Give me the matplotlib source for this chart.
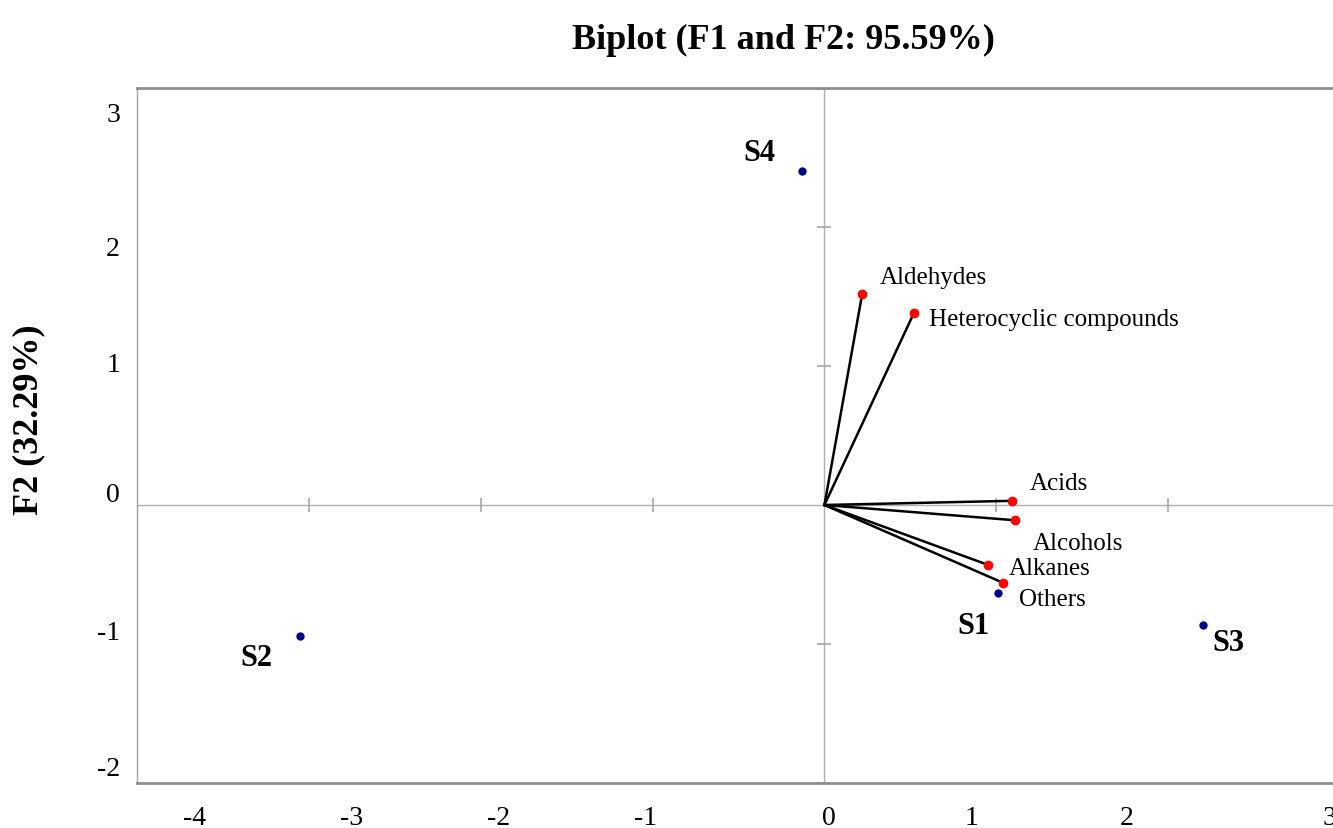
import matplotlib
matplotlib.use("Agg")
import matplotlib.pyplot as plt
import matplotlib.transforms as mtransforms

plt.rcParams['font.family'] = ['Liberation Serif', 'DejaVu Serif']

# ---- data ----
obs_names = ["S1", "S2", "S3", "S4"]
obs_x = [1.01, -3.05, 2.20, -0.13]
obs_y = [-0.63, -0.94, -0.86, 2.40]

var_names = ["Aldehydes", "Heterocyclic compounds", "Acids", "Alcohols", "Alkanes", "Others"]
var_x = [0.22, 0.52, 1.09, 1.11, 0.95, 1.04]
var_y = [1.52, 1.38, 0.03, -0.11, -0.43, -0.56]

x_ticks = [-4, -3, -2, -1, 0, 1, 2, 3]
y_ticks = [-2, -1, 0, 1, 2, 3]

title = "Biplot (F1 and F2: 95.59%)"
y_label = "F2 (32.29%)"

# ---- styling (label offsets in pixels) ----
obs_offsets = [(-25, -33), (-44, -22), (26, -18), (-43, 19)]
var_offsets = [(18, 17), (15, -6), (18, 18), (18, -23), (21, -3), (16, -16)]
xlab_offsets = [57, 43, 18, -7, 4, -25, -41, -10]
ylab_offsets = [14, 11, 10, 1, -22, -26]

W, H = 1333, 829
fig = plt.figure(figsize=(W / 100, H / 100), dpi=100)
ax = fig.add_axes([137 / W, (H - 784) / H, (1340 - 137) / W, (784 - 89) / H])
ax.set_xlim(-4, 3)
ax.set_ylim(-2, 3)

for s in ax.spines.values():
    s.set_color("#a0a0a0")
    s.set_linewidth(1.0)
ax.spines['top'].set_linewidth(2.0)
ax.spines['bottom'].set_linewidth(2.0)
ax.spines['top'].set_color("#8c8c8c")
ax.spines['bottom'].set_color("#8c8c8c")
ax.set_xticks([])
ax.set_yticks([])

# zero lines with crossing tick marks
ax.axhline(0, color="#b0b0b0", lw=1.0, zorder=1)
ax.axvline(0, color="#b0b0b0", lw=1.0, zorder=1)
xt_inner = [v for v in x_ticks if v not in (x_ticks[0], x_ticks[-1], 0)]
yt_inner = [v for v in y_ticks if v not in (y_ticks[0], y_ticks[-1], 0)]
ax.plot(xt_inner, [0] * len(xt_inner), ls="none", marker="|", ms=10, mew=1.2, color="#a8a8a8", zorder=1)
ax.plot([0] * len(yt_inner), yt_inner, ls="none", marker="_", ms=10, mew=1.2, color="#a8a8a8", zorder=1)

# tick labels
bx = mtransforms.blended_transform_factory(ax.transData, ax.transAxes)
for v, off in zip(x_ticks, xlab_offsets):
    ax.annotate(f"{v}", xy=(v, 0), xycoords=bx, xytext=(off, -35), textcoords="offset pixels",
                ha="center", va="center", fontsize=20, annotation_clip=False)
by = mtransforms.blended_transform_factory(ax.transAxes, ax.transData)
for v, off in zip(y_ticks, ylab_offsets):
    ax.annotate(f"{v}", xy=(0, v), xycoords=by, xytext=(-17, off), textcoords="offset pixels",
                ha="right", va="center", fontsize=20, annotation_clip=False)

# vectors
for x, y in zip(var_x, var_y):
    ax.plot([0, x], [0, y], color="black", lw=1.8, zorder=2)
ax.plot(var_x, var_y, ls="none", marker="o", ms=6, color="#ff0000", zorder=3)
for name, x, y, off in zip(var_names, var_x, var_y, var_offsets):
    ax.annotate(name, xy=(x, y), xytext=off, textcoords="offset pixels",
                ha="left", va="center", fontsize=18)

# observations
ax.plot(obs_x, obs_y, ls="none", marker="o", ms=5, color="#00008b", zorder=3)
for name, x, y, off in zip(obs_names, obs_x, obs_y, obs_offsets):
    ax.annotate(name, xy=(x, y), xytext=off, textcoords="offset pixels",
                ha="center", va="center", fontsize=22, fontweight="bold")

fig.text(783 / W, 1 - 40 / H, title, ha="center", va="center", fontsize=26, fontweight="bold")
fig.text(29 / W, 1 - 420 / H, y_label, ha="center", va="center", rotation=90, fontsize=26, fontweight="bold")

fig.savefig("out.png", dpi=100)
